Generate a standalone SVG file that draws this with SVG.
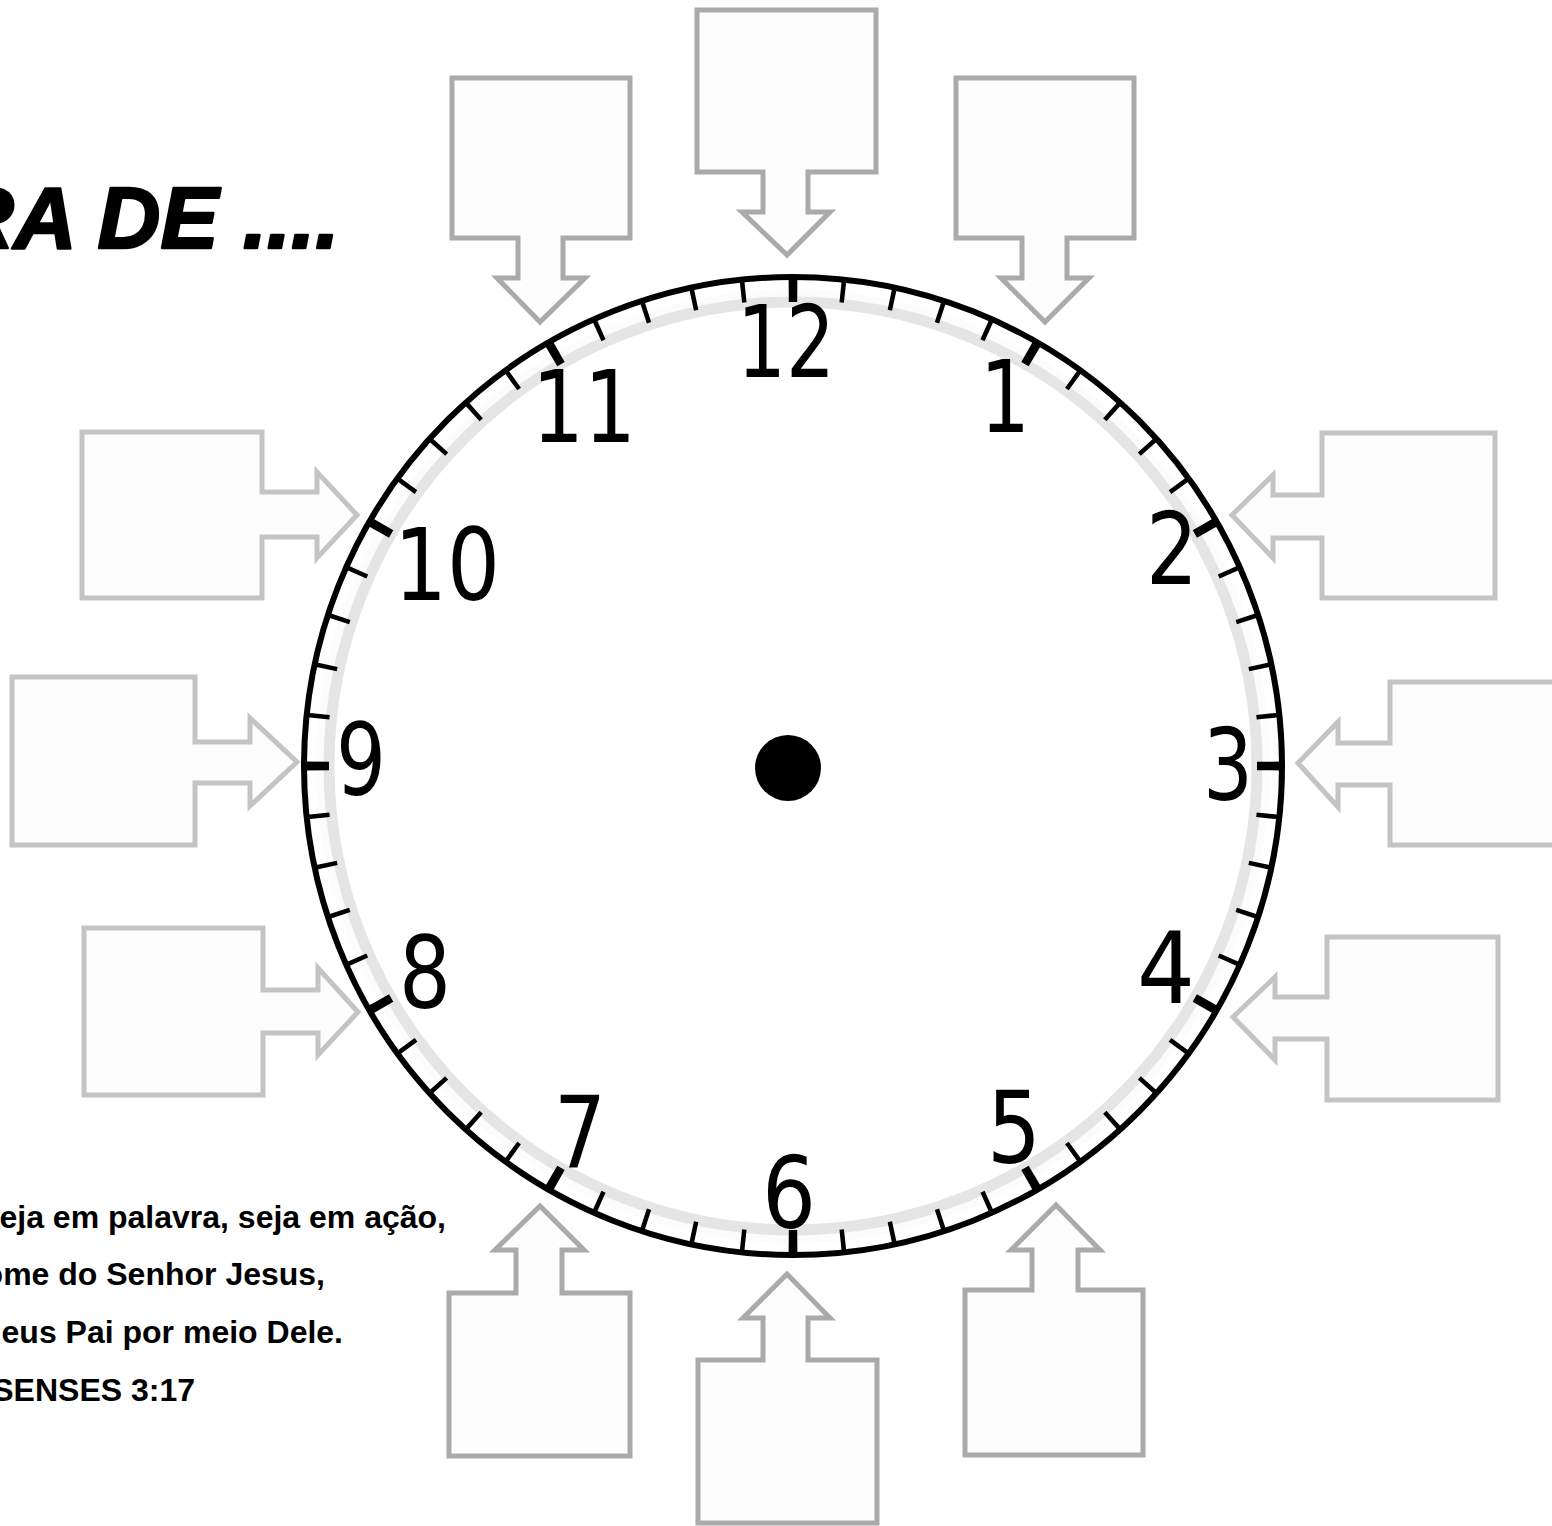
<svg xmlns="http://www.w3.org/2000/svg" width="1552" height="1526" viewBox="0 0 1552 1526">
<style>
.bx{fill:#fdfdfd;stroke:#aaaaaa;stroke-width:5;stroke-linejoin:miter}
.bs{fill:#fdfdfd;stroke:#c4c4c4;stroke-width:5;stroke-linejoin:miter}
.num{font-family:"DejaVu Sans",sans-serif;font-size:100px;fill:#000;text-anchor:middle}
.verse{font-family:"Liberation Sans",Arial,sans-serif;font-size:32px;font-weight:bold;fill:#000;text-anchor:end}
</style>
<rect width="1552" height="1526" fill="#ffffff"/>
<g id="title">
<text x="-49" y="248" font-family="'Liberation Sans',Arial,sans-serif" font-size="87" font-weight="bold" font-style="italic" fill="#000" stroke="#000" stroke-width="2.5" stroke-linejoin="round">RA DE ....</text>
</g>
<g id="verse">
<text class="verse" x="446" y="1228">eja em palavra, seja em ação,</text>
<text class="verse" x="325" y="1285">ome do Senhor Jesus,</text>
<text class="verse" x="343" y="1343">eus Pai por meio Dele.</text>
<text class="verse" x="195" y="1401">SENSES 3:17</text>
</g>
<g id="clock">
<circle cx="793" cy="766" r="477" fill="#fcfcfc"/>
<circle cx="793" cy="766" r="464" fill="#ffffff" stroke="#e5e5e5" stroke-width="11"/>
<circle cx="793" cy="766" r="477" fill="none" stroke="#000" stroke-width="22" pathLength="360" stroke-dasharray="0.55 5.45" stroke-dashoffset="0.275"/>
<circle cx="793" cy="766" r="476" fill="none" stroke="#000" stroke-width="24" pathLength="360" stroke-dasharray="1.05 28.95" stroke-dashoffset="0.525"/>
<circle cx="793" cy="766" r="489" fill="none" stroke="#000" stroke-width="6"/>
<circle cx="788" cy="768" r="33" fill="#000"/>
<text class="num" x="786" y="377" textLength="98" lengthAdjust="spacingAndGlyphs">12</text>
<text class="num" x="1005" y="432" textLength="50" lengthAdjust="spacingAndGlyphs">1</text>
<text class="num" x="1172" y="584" textLength="52" lengthAdjust="spacingAndGlyphs">2</text>
<text class="num" x="1228" y="800" textLength="50" lengthAdjust="spacingAndGlyphs">3</text>
<text class="num" x="1166" y="1003" textLength="58" lengthAdjust="spacingAndGlyphs">4</text>
<text class="num" x="1014" y="1163" textLength="54" lengthAdjust="spacingAndGlyphs">5</text>
<text class="num" x="789" y="1228" textLength="54" lengthAdjust="spacingAndGlyphs">6</text>
<text class="num" x="580" y="1168" textLength="52" lengthAdjust="spacingAndGlyphs">7</text>
<text class="num" x="425" y="1008" textLength="52" lengthAdjust="spacingAndGlyphs">8</text>
<text class="num" x="361" y="795" textLength="50" lengthAdjust="spacingAndGlyphs">9</text>
<text class="num" x="447" y="600" textLength="106" lengthAdjust="spacingAndGlyphs">10</text>
<text class="num" x="584" y="442" textLength="104" lengthAdjust="spacingAndGlyphs">11</text>
</g>
<g id="box-12"><path class="bx" d="M697,10 H876 V172 H808 V212 H830 L787,255 L742,212 H763 V172 H697 Z"/></g>
<g id="box-11"><path class="bx" d="M452,78 H630 V238 H563 V278 H585 L540,322 L497,278 H518 V238 H452 Z"/></g>
<g id="box-1"><path class="bx" d="M956,78 H1134 V238 H1067 V278 H1089 L1045,322 L1001,278 H1022 V238 H956 Z"/></g>
<g id="box-7"><path class="bx" d="M449,1456 H630 V1293 H562 V1250 H584 L540,1206 L495,1250 H516 V1293 H449 Z"/></g>
<g id="box-6"><path class="bx" d="M698,1523 H877 V1360 H808 V1318 H830 L787,1274 L743,1318 H763 V1360 H698 Z"/></g>
<g id="box-5"><path class="bx" d="M965,1455 H1143 V1290 H1078 V1250 H1100 L1056,1205 L1011,1250 H1032 V1290 H965 Z"/></g>
<g id="box-10"><path class="bs" d="M82,432 H262 V492 H317 V472 L357,515 L317,558 V537 H262 V598 H82 Z"/></g>
<g id="box-9"><path class="bs" d="M12,677 H195 V742 H250 V718 L297,762 L250,806 V783 H195 V845 H12 Z"/></g>
<g id="box-8"><path class="bs" d="M84,928 H263 V990 H318 V968 L358,1012 L318,1055 V1033 H263 V1095 H84 Z"/></g>
<g id="box-2"><path class="bs" d="M1495,433 H1322 V495 H1273 V475 L1232,515 L1273,558 V538 H1322 V598 H1495 Z"/></g>
<g id="box-3"><path class="bs" d="M1560,682 H1390 V743 H1338 V722 L1298,763 L1338,807 V785 H1390 V845 H1560 Z"/></g>
<g id="box-4"><path class="bs" d="M1498,937 H1327 V997 H1275 V977 L1233,1017 L1275,1060 V1039 H1327 V1100 H1498 Z"/></g>
</svg>
